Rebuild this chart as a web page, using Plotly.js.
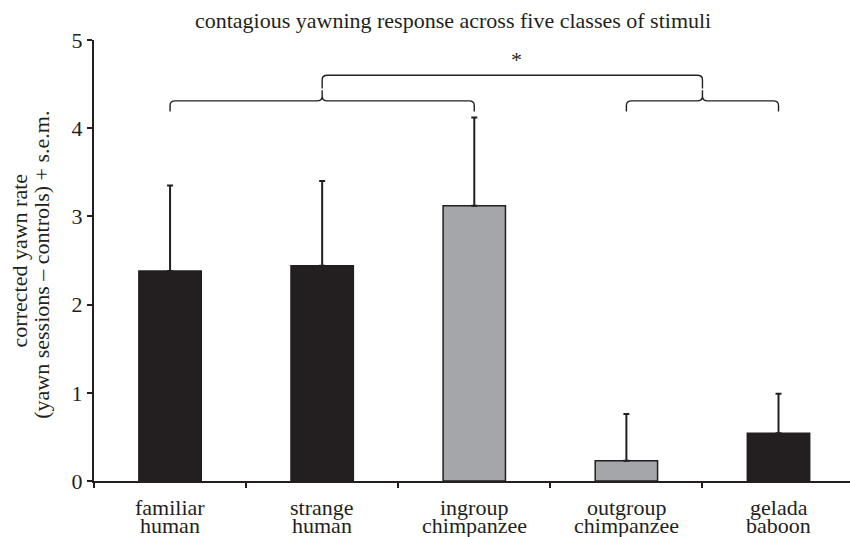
<!DOCTYPE html>
<html>
<head>
<meta charset="utf-8">
<script src="https://cdn.plot.ly/plotly-3.0.1.min.js"></script>
<style>html,body{margin:0;padding:0;background:#fff;}#chart{width:850px;height:537px;}</style>
</head>
<body>
<div id="chart"></div>
<script>
// ---- data ----
var categories = ['familiar human', 'strange human', 'ingroup chimpanzee', 'outgroup chimpanzee', 'gelada baboon'];
var labelLine1 = ['familiar', 'strange', 'ingroup', 'outgroup', 'gelada'];
var labelLine2 = ['human', 'human', 'chimpanzee', 'chimpanzee', 'baboon'];
var meanRate = [2.38, 2.44, 3.12, 0.23, 0.54];
var semRate = [0.97, 0.96, 1.00, 0.53, 0.45];
var stimulusGroup = ['human', 'human', 'chimp', 'chimp', 'baboon'];
var yTicks = [0, 1, 2, 3, 4, 5];
var titleText = 'contagious yawning response across five classes of stimuli';
var yTitleLine1 = 'corrected yawn rate';
var yTitleLine2 = '(yawn sessions \u2013 controls) + s.e.m.';
// brackets: [start index, end index, tip index]
var lowerBrackets = [[0, 2, 1], [3, 4, 3.5]];
var upperBracket = [1, 3.5];
var sigMark = '*';

// ---- styles ----
var INK = '#231f20';
var GREY = '#a5a6aa';
var FONT = 'Liberation Serif, Times New Roman, serif';
var FS = 22;
var colorFor = {human: INK, chimp: GREY, baboon: INK};

var xIdx = categories.map(function (c, i) { return i; });
var boundaries = categories.map(function (c, i) { return i - 0.5; }).concat([categories.length - 0.5]);

var trace = {
  type: 'bar',
  x: xIdx,
  y: meanRate,
  width: 0.41,
  marker: {color: stimulusGroup.map(function (g) { return colorFor[g]; }), line: {color: INK, width: 1.5}},
  error_y: {type: 'data', symmetric: false, array: semRate, arrayminus: meanRate.map(function () { return 0; }),
            color: INK, thickness: 2, width: 3},
  hoverinfo: 'skip'
};

// bracket paths (data coordinates)
var yLevel = 4.31, yEnd = 4.19, yTip = 4.43;
var uLevel = 4.60, uEnd = 4.45;
var rx = 0.035, ry = 0.05;
function bracePath(a, b, m) {
  return 'M ' + a + ' ' + yEnd + ' L ' + a + ' ' + (yLevel - ry) +
         ' Q ' + a + ' ' + yLevel + ' ' + (a + rx) + ' ' + yLevel +
         ' L ' + (m - rx) + ' ' + yLevel +
         ' Q ' + m + ' ' + yLevel + ' ' + m + ' ' + (yLevel + ry) +
         ' L ' + m + ' ' + yTip +
         ' M ' + m + ' ' + (yLevel + ry) +
         ' Q ' + m + ' ' + yLevel + ' ' + (m + rx) + ' ' + yLevel +
         ' L ' + (b - rx) + ' ' + yLevel +
         ' Q ' + b + ' ' + yLevel + ' ' + b + ' ' + (yLevel - ry) +
         ' L ' + b + ' ' + yEnd;
}
function upperPath(a, b) {
  return 'M ' + a + ' ' + uEnd + ' L ' + a + ' ' + (uLevel - ry) +
         ' Q ' + a + ' ' + uLevel + ' ' + (a + rx) + ' ' + uLevel +
         ' L ' + (b - rx) + ' ' + uLevel +
         ' Q ' + b + ' ' + uLevel + ' ' + b + ' ' + (uLevel - ry) +
         ' L ' + b + ' ' + uEnd;
}
var shapes = lowerBrackets.map(function (br) {
  return {type: 'path', xref: 'x', yref: 'y', path: bracePath(br[0], br[1], br[2]), line: {color: INK, width: 1.4}};
});
shapes.push({type: 'path', xref: 'x', yref: 'y', path: upperPath(upperBracket[0], upperBracket[1]), line: {color: INK, width: 1.4}});

var annotations = [];
xIdx.forEach(function (xi, i) {
  annotations.push({x: xi, y: 0, xref: 'x', yref: 'paper', text: labelLine1[i], showarrow: false,
                    xanchor: 'center', yanchor: 'middle', yshift: -26, font: {family: FONT, size: FS, color: INK}});
  annotations.push({x: xi, y: 0, xref: 'x', yref: 'paper', text: labelLine2[i], showarrow: false,
                    xanchor: 'center', yanchor: 'middle', yshift: -44, font: {family: FONT, size: FS, color: INK}});
});
annotations.push({x: -0.098, y: 0.5, xref: 'paper', yref: 'paper', text: yTitleLine1, textangle: -90, showarrow: false,
                  xanchor: 'center', yanchor: 'middle', font: {family: FONT, size: FS, color: INK}});
annotations.push({x: -0.069, y: 0.49, xref: 'paper', yref: 'paper', text: yTitleLine2, textangle: -90, showarrow: false,
                  xanchor: 'center', yanchor: 'middle', font: {family: FONT, size: FS, color: INK}});
annotations.push({x: (upperBracket[0] + upperBracket[1]) / 2 + 0.03, y: 4.78, xref: 'x', yref: 'y', text: sigMark, showarrow: false,
                  xanchor: 'center', yanchor: 'middle', font: {family: FONT, size: FS, color: INK}});

var layout = {
  width: 850, height: 537, autosize: false,
  margin: {l: 94, r: 0, t: 40, b: 56, pad: 0},
  paper_bgcolor: '#fff', plot_bgcolor: '#fff',
  showlegend: false,
  title: {text: titleText, x: 0.475, xref: 'paper', xanchor: 'center', y: 1 - 20 / 537, yref: 'container', yanchor: 'middle',
          font: {family: FONT, size: FS, color: INK}},
  xaxis: {type: 'linear', range: [-0.5, 4.47], tickmode: 'array', tickvals: boundaries, showticklabels: false,
          ticks: 'outside', ticklen: 5, tickwidth: 2, tickcolor: INK,
          showline: true, linewidth: 2, linecolor: INK, showgrid: false, zeroline: false, fixedrange: true},
  yaxis: {range: [0, 5], tickmode: 'array', tickvals: yTicks, ticktext: yTicks.map(String),
          ticks: 'outside', ticklen: 5, tickwidth: 2, tickcolor: INK,
          tickfont: {family: FONT, size: FS, color: INK},
          showline: true, linewidth: 2, linecolor: INK, showgrid: false, zeroline: false, fixedrange: true},
  shapes: shapes,
  annotations: annotations
};

Plotly.newPlot('chart', [trace], layout, {displayModeBar: false, staticPlot: true});
</script>
</body>
</html>
